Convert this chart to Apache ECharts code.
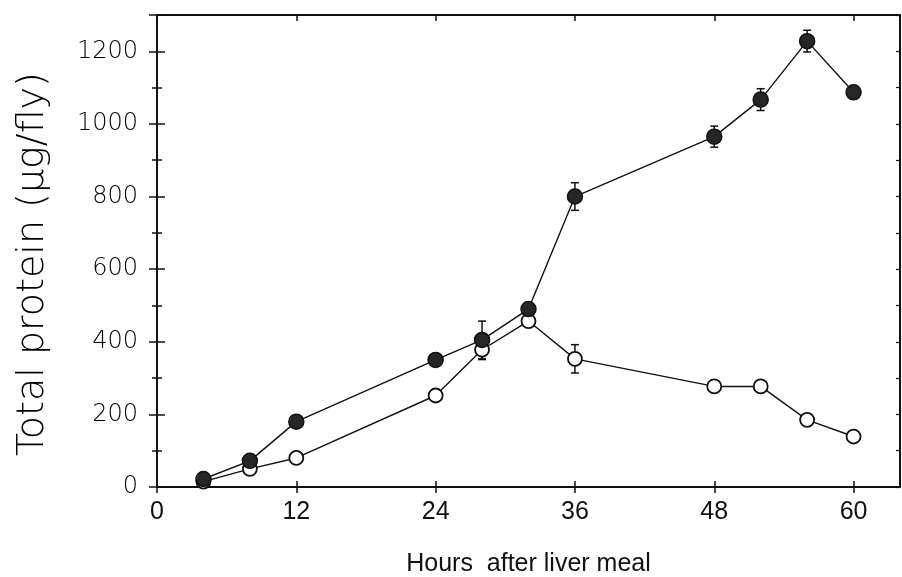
<!DOCTYPE html>
<html>
<head>
<meta charset="utf-8">
<script src="https://cdn.jsdelivr.net/npm/echarts@6/dist/echarts.min.js"></script>
<style>
  html, body { margin: 0; padding: 0; background: #fff; }
  #chart-container { width: 902px; height: 577px; }
</style>
</head>
<body>
<div id="chart-container"></div>
<script>
var hours = [4, 8, 12, 24, 28, 32, 36, 48, 52, 56, 60];
var fedProtein = [22, 72, 180, 350, 405, 490, 800, 965, 1067, 1228, 1087];
var fedErr = [0, 0, 0, 0, 52, 0, 38, 29, 30, 30, 0];
var openProtein = [15, 50, 80, 252, 378, 457, 353, 277, 277, 185, 139];
var openErr = [0, 0, 0, 0, 27, 0, 39, 0, 0, 0, 0];
var xTicks = [0, 12, 24, 36, 48, 60];

var dom = document.getElementById('chart-container');
var myChart = echarts.init(dom, null, { renderer: 'canvas' });

function pairs(ys) {
  return hours.map(function (h, i) { return [h, ys[i]]; });
}
function errRows(ys, es) {
  var out = [];
  hours.forEach(function (h, i) {
    if (es[i] > 0) out.push([h, ys[i] - es[i], ys[i] + es[i]]);
  });
  return out;
}
function renderErr(params, api) {
  var lo = api.coord([api.value(0), api.value(1)]);
  var hi = api.coord([api.value(0), api.value(2)]);
  var w = 4;
  var st = { stroke: '#111', lineWidth: 1.5 };
  return {
    type: 'group',
    children: [
      { type: 'line', shape: { x1: lo[0], y1: lo[1], x2: hi[0], y2: hi[1] }, style: st },
      { type: 'line', shape: { x1: lo[0] - w, y1: lo[1], x2: lo[0] + w, y2: lo[1] }, style: st },
      { type: 'line', shape: { x1: hi[0] - w, y1: hi[1], x2: hi[0] + w, y2: hi[1] }, style: st }
    ]
  };
}

var gridBox = { left: 157, right: 2, top: 15, bottom: 90, outerBoundsMode: 'none', containLabel: false };
var lineAxis = { show: true, onZero: false, lineStyle: { color: '#111', width: 2 } };
var noLine = { show: false, onZero: false };
var tickStyle = { color: '#111', width: 1.5 };

var option = {
  animation: false,
  backgroundColor: '#fff',
  grid: [
    Object.assign({}, gridBox),
    Object.assign({}, gridBox)
  ],
  xAxis: [
    {
      gridIndex: 0, type: 'value', position: 'bottom', min: 0, max: 64, interval: 12,
      name: 'Hours  after liver meal', nameLocation: 'middle', nameGap: 65,
      nameTextStyle: { fontFamily: 'Liberation Sans', fontSize: 25, color: '#111' },
      axisLine: lineAxis,
      axisTick: { show: true, inside: false, length: 6, customValues: xTicks, lineStyle: tickStyle },
      axisLabel: {
        customValues: xTicks, margin: 13, color: '#111',
        fontFamily: 'Liberation Sans', fontSize: 25
      },
      splitLine: { show: false }
    },
    {
      gridIndex: 0, type: 'value', position: 'top', min: 0, max: 64, interval: 12,
      axisLine: lineAxis,
      axisTick: { show: true, inside: true, length: 6, customValues: xTicks, lineStyle: tickStyle },
      axisLabel: { show: false },
      splitLine: { show: false }
    },
    {
      gridIndex: 1, type: 'value', position: 'bottom', min: 0, max: 64, interval: 12,
      axisLine: noLine,
      axisTick: { show: true, inside: true, length: 6, customValues: xTicks, lineStyle: tickStyle },
      axisLabel: { show: false },
      splitLine: { show: false }
    }
  ],
  yAxis: [
    {
      gridIndex: 0, type: 'value', position: 'left', min: 0, max: 1300, interval: 200,
      name: 'Total protein (µg/fly)', nameLocation: 'middle', nameGap: 105,
      nameTextStyle: {
        fontFamily: 'DejaVu Sans', fontWeight: 200, fontSize: 38, color: '#000',
        padding: [0, 26, 0, 0]
      },
      axisLine: lineAxis,
      axisTick: { show: true, inside: false, length: 8, lineStyle: tickStyle },
      minorTick: { show: true, splitNumber: 2, length: 5, lineStyle: tickStyle },
      axisLabel: {
        margin: 19, color: '#000', showMaxLabel: false,
        fontFamily: 'DejaVu Sans', fontWeight: 200, fontSize: 24,
        formatter: function (v) { return String(v); }
      },
      splitLine: { show: false }
    },
    {
      gridIndex: 0, type: 'value', position: 'right', min: 0, max: 1300, interval: 100,
      axisLine: lineAxis,
      axisTick: { show: true, inside: true, length: 4, lineStyle: { color: '#111', width: 1.2 } },
      axisLabel: { show: false },
      splitLine: { show: false }
    },
    {
      gridIndex: 1, type: 'value', position: 'left', min: 0, max: 1300, interval: 200,
      axisLine: noLine,
      axisTick: { show: true, inside: true, length: 8, lineStyle: tickStyle },
      minorTick: { show: true, splitNumber: 2, length: 5, lineStyle: tickStyle },
      axisLabel: { show: false },
      splitLine: { show: false }
    }
  ],
  series: [
    {
      type: 'custom', xAxisIndex: 0, yAxisIndex: 0, z: 1,
      renderItem: renderErr, data: errRows(openProtein, openErr)
    },
    {
      type: 'custom', xAxisIndex: 0, yAxisIndex: 0, z: 1,
      renderItem: renderErr, data: errRows(fedProtein, fedErr)
    },
    {
      name: 'open', type: 'line', xAxisIndex: 0, yAxisIndex: 0, z: 3,
      data: pairs(openProtein),
      symbol: 'circle', symbolSize: 14, showAllSymbol: true,
      lineStyle: { color: '#111', width: 1.4 },
      itemStyle: { color: '#fff', borderColor: '#111', borderWidth: 1.8 }
    },
    {
      name: 'filled', type: 'line', xAxisIndex: 0, yAxisIndex: 0, z: 4,
      data: pairs(fedProtein),
      symbol: 'circle', symbolSize: 15, showAllSymbol: true,
      lineStyle: { color: '#111', width: 1.4 },
      itemStyle: { color: '#262626', borderColor: '#111', borderWidth: 1.5 }
    }
  ]
};

myChart.setOption(option);
window.addEventListener('resize', myChart.resize);
</script>
</body>
</html>
